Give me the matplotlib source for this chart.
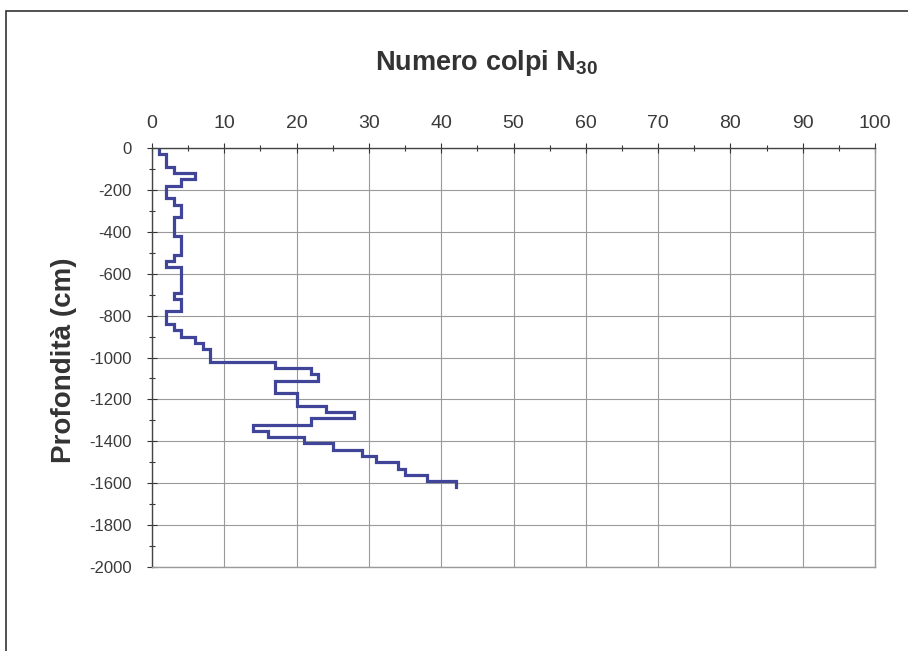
import matplotlib
matplotlib.use("Agg")
import matplotlib.pyplot as plt
from matplotlib.patches import Rectangle
from matplotlib.ticker import MultipleLocator

# Step profile: depth boundaries (cm) and number of blows per 30 cm
depth_top = [0, 30, 90, 120, 150, 180, 240, 270, 330, 420, 510, 540, 570, 690, 720,
             780, 840, 870, 900, 930, 960, 1020, 1050, 1080, 1110, 1170, 1230, 1260,
             1290, 1320, 1350, 1380, 1410, 1440, 1470, 1500, 1530, 1560, 1590]
depth_bottom = depth_top[1:] + [1620]
n30 = [1, 2, 3, 6, 4, 2, 3, 4, 3, 4, 3, 2, 4, 3, 4,
       2, 3, 4, 6, 7, 8, 17, 22, 23, 17, 20, 24, 28,
       22, 14, 16, 21, 25, 29, 31, 34, 35, 38, 42]

x_ticks = [0, 10, 20, 30, 40, 50, 60, 70, 80, 90, 100]
y_ticks = [0, -200, -400, -600, -800, -1000, -1200, -1400, -1600, -1800, -2000]

plt.rcParams['font.family'] = ['Liberation Sans', 'DejaVu Sans']
plt.rcParams['axes.unicode_minus'] = False
plt.rcParams['mathtext.fontset'] = 'custom'
plt.rcParams['mathtext.rm'] = 'Liberation Sans'
plt.rcParams['mathtext.bf'] = 'Liberation Sans:bold'

W, H = 908, 651
fig = plt.figure(figsize=(W / 100, H / 100), dpi=100)
fig.patch.set_facecolor("white")

# outer frame (scanned page border)
fig.patches.append(Rectangle((6 / W, -0.05), 1.2, 1 - 11 / H + 0.05,
                             transform=fig.transFigure, fill=False,
                             edgecolor="#333333", linewidth=1.2))

ax = fig.add_axes([152 / W, 1 - 567 / H, (875 - 152) / W, (567 - 148) / H])

xs, ys = [], []
for v, d0, d1 in zip(n30, depth_top, depth_bottom):
    xs += [v, v]
    ys += [-d0, -d1]
ax.plot(xs, ys, color="#40459a", linewidth=2.3, solid_joinstyle="miter")

ax.set_xlim(0, 100)
ax.set_ylim(-2000, 0)
ax.xaxis.tick_top()
ax.xaxis.set_label_position("top")
ax.set_xticks(x_ticks)
ax.set_yticks(y_ticks)
ax.xaxis.set_minor_locator(MultipleLocator(5))
ax.yaxis.set_minor_locator(MultipleLocator(100))
ax.tick_params(axis="x", which="major", direction="inout", length=7, width=0.8,
               labelsize=14, pad=8, colors="#333333", labelcolor="#3a3a3a")
ax.tick_params(axis="x", which="minor", direction="inout", length=5, width=0.8,
               colors="#333333")
ax.tick_params(axis="y", which="major", direction="inout", length=7, width=0.8,
               labelsize=12, pad=11, colors="#333333", labelcolor="#3a3a3a")
ax.tick_params(axis="y", which="minor", direction="inout", length=5, width=0.8,
               colors="#333333")

ax.grid(True, which="major", color="#9a9a9a", linewidth=0.8)
ax.set_axisbelow(True)
for s in ["left", "top"]:
    ax.spines[s].set_color("#444444")
    ax.spines[s].set_linewidth(1.0)
for s in ["right", "bottom"]:
    ax.spines[s].set_color("#9a9a9a")
    ax.spines[s].set_linewidth(1.0)

fig.text(487 / W, 1 - 69.5 / H, r"Numero colpi N$_{\mathbf{30}}$", ha="center", va="baseline",
         fontsize=19.5, fontweight="bold", color="#333333")
fig.text(64 / W, 1 - 360 / H, "Profondità (cm)", ha="center", va="center",
         rotation=90, fontsize=20, fontweight="bold", color="#333333")

fig.savefig("out.png", dpi=100, facecolor="white")
